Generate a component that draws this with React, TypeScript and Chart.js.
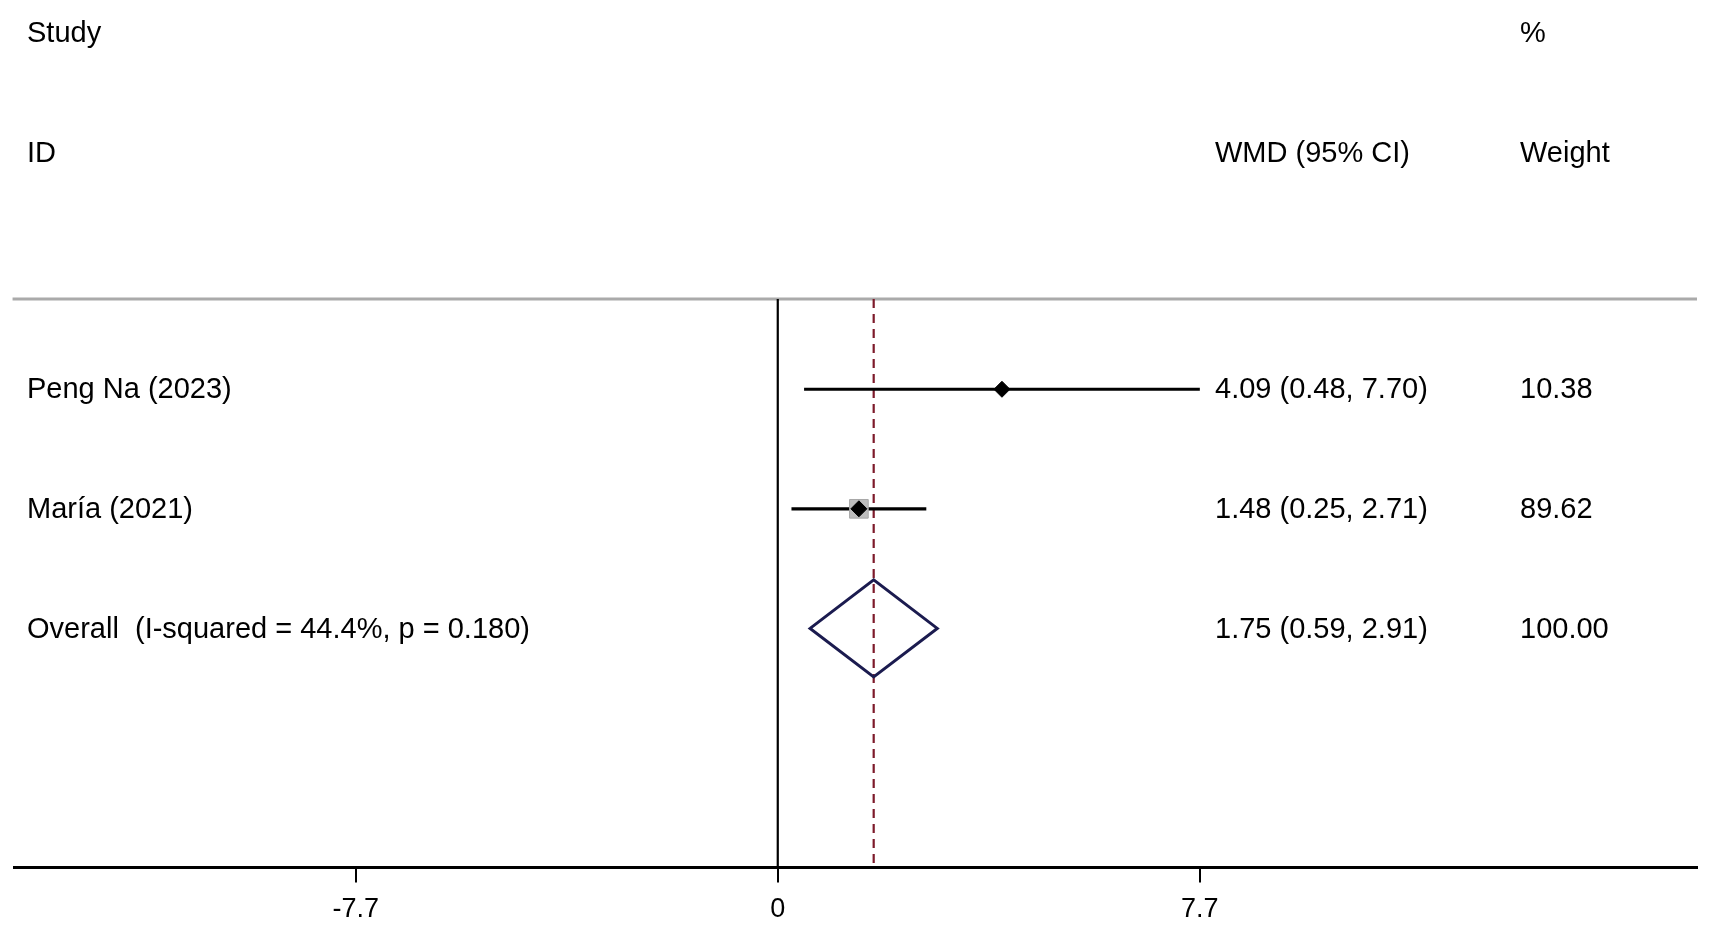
import React, { useEffect, useRef } from "react";
import { Chart, registerables } from "chart.js";

Chart.register(...registerables);

// ---------- data ----------
const STUDY_LABELS = ["Peng Na (2023)", "María (2021)"];
const STUDY_EST = [4.09, 1.48];
const STUDY_LO = [0.48, 0.25];
const STUDY_HI = [7.70, 2.71];
const STUDY_WEIGHT = [10.38, 89.62];

const OVERALL_LABEL = "Overall  (I-squared = 44.4%, p = 0.180)";
const OVERALL_EST = 1.75;
const OVERALL_LO = 0.59;
const OVERALL_HI = 2.91;
const OVERALL_WEIGHT = 100.0;

const X_TICKS = [-7.7, 0, 7.7];
const X_MIN = -13.93;
const X_MAX = 16.77;
const Y_MIN = 0.245;
const Y_MAX = 5.0;

const FONT = '"Liberation Sans", Arial, Helvetica, sans-serif';

const fmt = (v: number) => v.toFixed(2);

export default function App() {
  const ref = useRef<HTMLCanvasElement | null>(null);

  useEffect(() => {
    const canvas = ref.current;
    if (!canvas) return;

    const rows = STUDY_LABELS.map((_, i) => i + 1);
    const overallRow = STUDY_LABELS.length + 1;
    const diamondHalf = 0.406;
    const boxRadius = (w: number) => 13.2 * Math.sqrt(w / 89.62);

    const datasets: any[] = [];

    // header separator
    datasets.push({
      type: "line",
      data: [
        { x: X_MIN - 0.03, y: Y_MIN },
        { x: X_MAX, y: Y_MIN },
      ],
      borderColor: "#aaaaaa",
      borderWidth: 3,
      pointRadius: 0,
      clip: false,
      order: 10,
    });
    // zero line
    datasets.push({
      type: "line",
      data: [
        { x: 0, y: Y_MIN },
        { x: 0, y: Y_MAX },
      ],
      borderColor: "#000000",
      borderWidth: 2.2,
      pointRadius: 0,
      clip: false,
      order: 9,
    });
    // overall effect dashed line
    datasets.push({
      type: "line",
      data: [
        { x: OVERALL_EST, y: Y_MIN },
        { x: OVERALL_EST, y: Y_MAX },
      ],
      borderColor: "#7d1a2a",
      borderWidth: 2.2,
      borderDash: [9, 6],
      pointRadius: 0,
      clip: false,
      order: 8,
    });
    // CI lines
    rows.forEach((r, i) => {
      datasets.push({
        type: "line",
        data: [
          { x: STUDY_LO[i], y: r },
          { x: STUDY_HI[i], y: r },
        ],
        borderColor: "#000000",
        borderWidth: 3.2,
        pointRadius: 0,
        clip: false,
        order: 6,
      });
    });
    // weight boxes
    datasets.push({
      type: "scatter",
      data: rows.map((r, i) => ({ x: STUDY_EST[i], y: r })),
      pointStyle: "rect",
      pointRadius: STUDY_WEIGHT.map(boxRadius),
      backgroundColor: "#bdbdbd",
      borderColor: "#a8a8a8",
      borderWidth: 1,
      clip: false,
      order: 5,
    });
    // point estimates
    datasets.push({
      type: "scatter",
      data: rows.map((r, i) => ({ x: STUDY_EST[i], y: r })),
      pointStyle: "rectRot",
      pointRadius: 8,
      backgroundColor: "#000000",
      borderColor: "#000000",
      borderWidth: 1,
      clip: false,
      order: 4,
    });
    // overall diamond
    datasets.push({
      type: "line",
      data: [
        { x: OVERALL_LO, y: overallRow },
        { x: OVERALL_EST, y: overallRow - diamondHalf },
        { x: OVERALL_HI, y: overallRow },
        { x: OVERALL_EST, y: overallRow + diamondHalf },
        { x: OVERALL_LO, y: overallRow },
        { x: OVERALL_EST, y: overallRow - diamondHalf },
      ],
      borderColor: "#1b1b4f",
      borderWidth: 3,
      borderJoinStyle: "miter",
      fill: false,
      pointRadius: 0,
      tension: 0,
      clip: false,
      order: 3,
    });

    const textPlugin = {
      id: "forestText",
      afterDraw(chart: any) {
        const ctx = chart.ctx;
        const y = chart.scales.y;
        ctx.save();
        ctx.fillStyle = "#000000";
        ctx.font = `29px ${FONT}`;
        ctx.textAlign = "left";
        ctx.textBaseline = "alphabetic";
        const colLabel = 27;
        const colEffect = 1215;
        const colWeight = 1520;
        ctx.fillText("Study", colLabel, 41.7);
        ctx.fillText("ID", colLabel, 161.7);
        ctx.fillText("%", colWeight, 41.7);
        ctx.fillText("WMD (95% CI)", colEffect, 161.7);
        ctx.fillText("Weight", colWeight, 161.7);
        const off = 9.2;
        rows.forEach((r, i) => {
          const py = y.getPixelForValue(r) + off;
          ctx.fillText(STUDY_LABELS[i], colLabel, py);
          ctx.fillText(
            `${fmt(STUDY_EST[i])} (${fmt(STUDY_LO[i])}, ${fmt(STUDY_HI[i])})`,
            colEffect,
            py
          );
          ctx.fillText(fmt(STUDY_WEIGHT[i]), colWeight, py);
        });
        const oy = y.getPixelForValue(overallRow) + off;
        ctx.fillText(OVERALL_LABEL, colLabel, oy);
        ctx.fillText(
          `${fmt(OVERALL_EST)} (${fmt(OVERALL_LO)}, ${fmt(OVERALL_HI)})`,
          colEffect,
          oy
        );
        ctx.fillText(fmt(OVERALL_WEIGHT), colWeight, oy);
        ctx.restore();
      },
    };

    const chart = new Chart(canvas, {
      type: "scatter",
      data: { datasets },
      plugins: [textPlugin],
      options: {
        animation: false,
        responsive: false,
        devicePixelRatio: 1,
        events: [],
        layout: { padding: { left: 9.5, right: 16, top: 299, bottom: 0 } },
        plugins: {
          legend: { display: false },
          tooltip: { enabled: false },
        },
        scales: {
          x: {
            type: "linear",
            position: "bottom",
            min: X_MIN,
            max: X_MAX,
            afterBuildTicks: (scale: any) => {
              scale.ticks = X_TICKS.map((v) => ({ value: v }));
            },
            afterFit: (scale: any) => {
              scale.height = 929 - 867.5;
            },
            ticks: {
              autoSkip: false,
              maxRotation: 0,
              padding: 11,
              color: "#000000",
              font: { family: FONT, size: 27 },
              callback: (v: any) => String(v),
            },
            grid: {
              display: true,
              drawOnChartArea: false,
              drawTicks: true,
              tickLength: 15,
              color: "#000000",
              lineWidth: 2,
            },
            border: { display: true, color: "#000000", width: 3 },
          },
          y: {
            type: "linear",
            display: false,
            reverse: true,
            min: Y_MIN,
            max: Y_MAX,
          },
        },
      } as any,
    });

    return () => chart.destroy();
  }, []);

  return (
    <div
      style={{
        position: "absolute",
        left: 0,
        top: 0,
        width: 1713,
        height: 929,
        background: "#ffffff",
      }}
    >
      <canvas ref={ref} width={1713} height={929} style={{ display: "block" }} />
    </div>
  );
}
